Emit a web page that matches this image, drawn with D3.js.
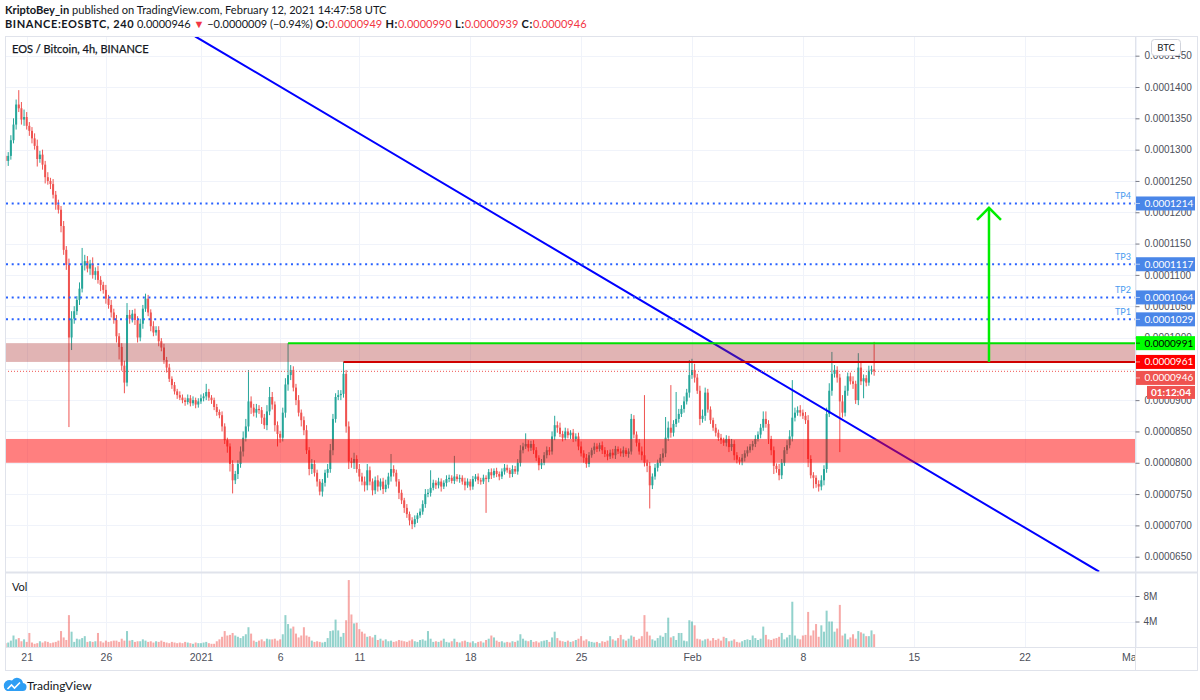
<!DOCTYPE html>
<html>
<head>
<meta charset="utf-8">
<script src="https://cdn.jsdelivr.net/npm/d3@7"></script>
<style>
  body { margin: 0; background: #fff; }
  svg { display: block; font-family: "Segoe UI", Lato, "Noto Sans", sans-serif; }
</style>
</head>
<body>
<div id="chart"></div>
<script>
// prices are stored in units of 1e-7 BTC (946 -> 0.0000946), volumes in millions
var startTime = Date.UTC(2020, 11, 19, 16);   // open time of first 4h candle
var firstOpen = 1290;

var closes = [
  1282,1290,1315,1340,1372,1366,1348,1352,1338,1330,
  1318,1306,1285,1292,1276,1256,1250,1245,1228,1212,
  1204,1178,1140,1116,1000,1030,1042,1060,1078,1115,
  1122,1110,1118,1100,1106,1092,1084,1076,1062,1052,
  1040,1028,1002,985,955,928,1036,1030,1038,1028,
  1000,1022,1046,1062,1040,1018,1008,1012,994,984,
  964,952,934,924,914,908,904,900,897,903,
  895,900,893,898,903,906,913,904,900,889,
  881,876,858,836,826,798,772,782,798,818,
  840,858,898,888,880,886,884,872,860,882,
  905,893,860,846,840,880,925,940,948,920,
  900,880,868,852,820,790,798,784,770,754,
  768,784,790,820,870,905,908,910,942,858,
  802,800,806,790,778,770,764,788,770,756,
  772,762,770,758,765,778,790,784,770,752,
  740,728,718,708,702,710,716,722,734,750,
  752,760,768,764,770,762,768,774,776,771,
  778,774,776,770,764,770,762,774,778,772,
  770,776,774,785,780,787,782,778,786,792,
  788,782,790,786,800,820,826,830,824,830,
  820,808,796,800,812,820,818,842,860,856,
  846,840,850,844,848,838,842,826,815,808,
  798,812,820,826,822,828,820,814,810,816,
  812,822,818,815,820,814,818,870,845,832,
  818,812,800,795,764,778,792,800,808,815,
  840,856,848,862,870,878,886,898,912,940,
  948,936,915,870,875,912,885,868,856,848,
  840,836,832,838,825,830,812,805,802,808,
  815,820,826,830,838,845,856,870,862,838,
  820,795,790,780,800,820,828,842,872,880,
  884,880,875,868,806,780,776,766,762,772,
  790,878,915,942,948,936,898,880,915,938,
  930,926,900,952,930,935,928,947,949,946
];

var upWicks = [
  8,6,8,10,8,23,10,12,8,6,
  6,8,10,6,8,6,8,5,8,6,
  8,6,8,6,10,12,8,6,10,28,
  10,8,6,10,6,8,6,5,8,6,
  8,6,8,5,6,8,19,8,6,8,
  6,8,6,8,6,5,8,6,6,5,
  6,5,6,4,5,4,6,5,4,6,
  5,6,4,5,6,5,13,5,4,4,
  5,4,6,5,4,5,6,5,6,8,
  10,12,50,8,6,8,6,5,6,10,
  16,8,5,6,5,8,10,51,8,6,
  6,8,5,6,8,5,8,6,5,4,
  6,5,8,10,8,6,8,6,19,6,
  8,6,10,6,8,6,8,10,6,5,
  6,8,5,6,8,6,24,6,5,4,
  5,4,6,4,5,6,4,5,6,8,
  6,28,5,4,6,5,4,6,5,4,
  33,4,5,4,6,5,4,5,4,5,
  4,5,4,5,6,4,5,4,5,6,
  5,4,6,5,6,8,6,17,6,5,
  6,5,4,6,5,6,5,8,15,6,
  8,5,6,5,4,6,5,6,8,5,
  6,5,4,6,5,4,6,5,6,5,
  6,5,4,5,6,4,5,8,6,5,
  6,8,96,5,6,5,6,5,6,8,
  33,10,68,6,43,8,6,8,6,24,
  18,10,6,8,10,8,6,5,4,6,
  5,6,4,6,5,8,6,5,4,6,
  5,6,4,5,6,5,6,12,12,6,
  5,6,4,8,6,5,8,10,60,8,
  6,8,5,6,8,6,5,4,6,8,
  6,10,12,35,8,6,6,10,8,6,
  6,8,5,23,8,6,5,8,6,44
];

var downWicks = [
  10,8,6,5,8,6,8,10,6,8,
  8,6,12,6,8,10,6,8,6,8,
  6,10,8,8,143,20,8,6,8,6,
  8,6,10,6,8,6,10,6,8,6,
  8,6,10,20,8,17,6,8,6,8,
  8,6,8,5,6,8,6,5,8,6,
  6,8,5,6,5,6,4,5,6,4,
  5,4,6,5,4,5,6,5,6,5,
  6,5,8,6,10,12,21,6,8,6,
  8,6,8,10,6,8,6,10,6,8,
  6,8,10,20,8,6,8,10,8,6,
  8,6,10,8,6,10,8,6,8,6,
  8,6,8,6,8,6,5,8,6,10,
  12,8,10,6,8,6,10,8,6,8,
  6,8,6,8,5,6,8,6,8,10,
  6,8,6,8,8,5,6,4,5,6,
  5,6,4,6,5,8,4,6,5,4,
  5,4,6,5,8,4,6,5,4,6,
  5,4,54,5,6,4,5,6,4,5,
  4,6,5,4,5,6,5,4,6,5,
  6,5,8,6,4,5,6,5,6,8,
  5,6,4,5,6,5,4,6,5,8,
  6,5,4,6,5,4,6,5,6,4,
  5,6,4,5,6,4,6,5,6,6,
  5,8,6,10,37,6,5,6,5,6,
  6,5,8,6,5,6,5,6,5,8,
  6,8,5,10,6,8,5,6,5,6,
  5,6,5,6,8,6,8,6,5,6,
  6,5,4,6,5,4,6,5,6,8,
  8,13,6,8,6,5,6,5,8,6,
  5,6,5,6,13,5,17,6,8,6,
  8,6,5,8,6,8,81,8,6,8,
  5,8,6,8,6,27,6,5,6,7
];

var volumes = [
  0.6,0.7,1.0,1.8,1.2,1.4,0.9,1.2,0.8,2.2,
  0.7,0.5,0.6,0.9,0.7,0.9,0.8,0.6,0.7,0.8,
  1.0,2.5,1.5,1.1,5.0,2.4,0.8,1.3,1.2,1.4,
  1.7,0.8,0.9,0.8,0.9,2.2,0.9,0.7,1.0,0.8,
  0.9,1.0,1.0,0.8,1.3,1.0,2.5,1.0,1.1,0.8,
  0.9,0.9,1.2,1.0,0.8,0.9,0.7,0.9,0.8,1.0,
  0.8,0.7,0.6,0.8,0.7,0.6,0.7,0.6,0.8,0.7,
  0.6,0.5,0.7,0.6,0.6,0.7,0.8,0.6,0.5,0.5,
  0.9,1.2,1.6,2.5,1.8,1.9,2.2,1.8,1.6,1.4,
  1.7,2.0,3.1,2.1,1.0,0.8,1.0,1.2,0.9,1.3,
  1.2,1.2,1.3,1.0,1.2,2.0,5.0,3.6,2.9,3.2,
  2.1,1.5,1.8,3.1,1.8,1.6,1.0,0.8,0.9,0.8,
  0.7,0.8,1.4,2.5,2.6,4.3,2.6,1.6,2.2,4.2,
  10.5,5.1,3.7,3.8,2.8,2.4,2.1,1.6,1.7,1.5,
  1.9,1.1,1.3,1.0,1.2,0.9,1.0,0.8,0.9,1.1,
  1.0,0.9,0.8,1.0,1.2,0.9,0.8,1.1,1.2,1.0,
  2.5,1.3,0.8,0.9,0.8,1.0,1.3,0.8,0.7,0.9,
  1.3,0.8,0.7,0.9,1.0,0.8,0.7,0.9,0.6,0.8,
  0.9,0.7,1.1,1.3,1.8,1.5,1.0,0.8,0.9,0.7,
  0.8,0.7,0.9,0.8,1.0,2.0,1.3,1.0,0.9,1.1,
  0.8,0.9,0.7,0.9,1.0,1.1,0.8,1.5,2.4,1.4,
  1.0,0.9,0.8,1.0,0.8,0.9,1.1,1.3,1.7,1.0,
  1.2,0.9,0.8,0.7,0.8,0.6,0.9,0.8,1.0,1.7,
  1.2,1.0,1.4,1.9,1.2,1.0,1.3,1.8,1.6,1.1,
  1.3,1.7,5.0,2.4,1.8,1.2,1.0,1.4,1.8,1.6,
  2.2,4.6,1.5,1.7,1.1,2.2,2.2,1.0,0.9,4.2,
  4.0,3.4,1.3,1.2,1.0,1.2,1.3,1.0,1.4,1.1,
  1.3,1.0,1.6,1.4,0.9,1.0,1.2,0.8,0.7,0.9,
  1.1,1.2,1.1,1.8,1.4,1.1,1.3,3.2,1.9,1.2,
  1.1,1.3,1.4,1.6,2.2,1.2,1.5,1.9,7.1,1.8,
  1.3,1.2,1.8,1.9,5.5,1.8,2.6,3.6,1.6,3.4,
  2.4,5.7,4.0,4.0,2.4,2.9,6.6,1.8,2.1,1.2,
  1.5,2.0,1.3,2.5,2.3,2.1,1.7,1.7,2.6,2.0
];

var priceTicks = d3.range(650, 1451, 50);
var volTicks = [4, 8];
var dateTicks = [
  Date.UTC(2020, 11, 21), Date.UTC(2020, 11, 26), Date.UTC(2021, 0, 1), Date.UTC(2021, 0, 6),
  Date.UTC(2021, 0, 11), Date.UTC(2021, 0, 18), Date.UTC(2021, 0, 25), Date.UTC(2021, 1, 1),
  Date.UTC(2021, 1, 8), Date.UTC(2021, 1, 15), Date.UTC(2021, 1, 22), Date.UTC(2021, 2, 1)
];
var dateLabels = ['21', '26', '2021', '6', '11', '18', '25', 'Feb', '8', '15', '22', 'Mar'];

// drawings on the chart
var tpLevels = [1029, 1064, 1117, 1214];
var tpNames = ['TP1', 'TP2', 'TP3', 'TP4'];
var upperZone = [961, 991];
var lowerZone = [800, 838];
var greenLevel = 991, greenFrom = 107;   // ray starting at candle index
var redLevel = 961, redFrom = 128;
var lastPrice = 946;
var countdown = '01:12:04';
var trendPoints = [[Date.UTC(2020, 11, 31, 15), 1481], [Date.UTC(2021, 1, 26, 17), 626]];
var arrowTime = Date.UTC(2021, 1, 19, 18);
var arrowPrices = [961, 1207];

var author = 'KriptoBey_in';
var stamp = ' published on TradingView.com, February 12, 2021 14:47:58 UTC';
var symbolLine = [
  ['BINANCE:EOSBTC, 240', '#131722', 'bold'],
  [' 0.0000946 ', '#131722', 'normal'],
  ['\u25BC', '#f23645', 'normal'],
  [' \u22120.0000009 (\u22120.94%) ', '#131722', 'normal'],
  ['O:', '#131722', 'bold'], ['0.0000949', '#f23645', 'normal'],
  [' H:', '#131722', 'bold'], ['0.0000990', '#f23645', 'normal'],
  [' L:', '#131722', 'bold'], ['0.0000939', '#f23645', 'normal'],
  [' C:', '#131722', 'bold'], ['0.0000946', '#f23645', 'normal']
];
var title = 'EOS / Bitcoin, 4h, BINANCE';

var W = 1200, H = 700;
var padL = 5, padR = 1135, padT = 36, paneBottom = 572, volBottom = 647, frameBottom = 670;
var upColor = '#26a69a', downColor = '#ef5350';

var svg = d3.select('#chart').append('svg').attr('width', W).attr('height', H);

var x = d3.scaleTime()
  .domain([new Date(Date.UTC(2020, 11, 21)), new Date(Date.UTC(2021, 2, 1))])
  .range([26.7, 1135.5]);
var y = d3.scaleLinear().domain([650, 1400]).range([556.7, 87]);
var v = d3.scaleLinear().domain([0, 8]).range([volBottom, 596]);

var candles = closes.map(function (c, i) {
  var o = i === 0 ? firstOpen : closes[i - 1];
  return {
    t: new Date(startTime + i * 4 * 3600 * 1000),
    o: o, c: c,
    h: Math.max(o, c) + upWicks[i],
    l: Math.min(o, c) - downWicks[i],
    vol: volumes[i]
  };
});

var defs = svg.append('defs');
defs.append('clipPath').attr('id', 'clipMain')
  .append('rect').attr('x', padL).attr('y', padT).attr('width', padR - padL).attr('height', paneBottom - padT);
defs.append('clipPath').attr('id', 'clipVol')
  .append('rect').attr('x', padL).attr('y', paneBottom).attr('width', padR - padL).attr('height', volBottom - paneBottom);
defs.append('clipPath').attr('id', 'clipTime')
  .append('rect').attr('x', padL).attr('y', volBottom).attr('width', padR - padL).attr('height', frameBottom - volBottom);

// header
var h1 = svg.append('text').attr('x', 5).attr('y', 14).attr('font-size', 11.1).attr('fill', '#131722');
h1.append('tspan').attr('font-weight', 'bold').text(author);
h1.append('tspan').text(stamp);

var h2 = svg.append('text').attr('x', 5).attr('y', 28).attr('font-size', 11);
symbolLine.forEach(function (p) {
  h2.append('tspan').attr('fill', p[1]).attr('font-weight', p[2])
    .attr('letter-spacing', p[2] === 'bold' ? 0.6 : 0)
    .attr('xml:space', 'preserve').text(p[0]);
});

// grid
var grid = svg.append('g');
grid.selectAll('.hg').data(priceTicks).enter().append('line')
  .attr('x1', padL).attr('x2', padR)
  .attr('y1', function (d) { return Math.round(y(d)) + 0.5; })
  .attr('y2', function (d) { return Math.round(y(d)) + 0.5; })
  .attr('stroke', '#f0f3fa').attr('clip-path', 'url(#clipMain)');
grid.selectAll('.vg').data(volTicks).enter().append('line')
  .attr('x1', padL).attr('x2', padR)
  .attr('y1', function (d) { return Math.round(v(d)) + 0.5; })
  .attr('y2', function (d) { return Math.round(v(d)) + 0.5; })
  .attr('stroke', '#f0f3fa');
grid.selectAll('.tg').data(dateTicks).enter().append('line')
  .attr('x1', function (d) { return Math.round(x(d)) + 0.5; })
  .attr('x2', function (d) { return Math.round(x(d)) + 0.5; })
  .attr('y1', padT).attr('y2', volBottom)
  .attr('stroke', '#f0f3fa');

// candles
var main = svg.append('g').attr('clip-path', 'url(#clipMain)');
var cg = main.append('g');
cg.selectAll('.wick').data(candles).enter().append('line')
  .attr('x1', function (d) { return x(d.t); })
  .attr('x2', function (d) { return x(d.t); })
  .attr('y1', function (d) { return y(d.h); })
  .attr('y2', function (d) { return y(d.l); })
  .attr('stroke', function (d) { return d.c >= d.o ? upColor : downColor; })
  .attr('stroke-width', 1);
cg.selectAll('.body').data(candles).enter().append('rect')
  .attr('x', function (d) { return x(d.t) - 1; })
  .attr('width', 2)
  .attr('y', function (d) { return y(Math.max(d.o, d.c)); })
  .attr('height', function (d) { return Math.max(1, Math.abs(y(d.o) - y(d.c))); })
  .attr('fill', function (d) { return d.c >= d.o ? upColor : downColor; });

// trend line
main.append('line')
  .attr('x1', x(new Date(trendPoints[0][0]))).attr('y1', y(trendPoints[0][1]))
  .attr('x2', x(new Date(trendPoints[1][0]))).attr('y2', y(trendPoints[1][1]))
  .attr('stroke', '#0000ff').attr('stroke-width', 2);

// zones
main.append('rect')
  .attr('x', padL).attr('width', padR - padL)
  .attr('y', y(upperZone[1])).attr('height', y(upperZone[0]) - y(upperZone[1]))
  .attr('fill', 'rgba(170,40,40,0.35)');
main.append('rect')
  .attr('x', padL).attr('width', padR - padL)
  .attr('y', y(lowerZone[1])).attr('height', y(lowerZone[0]) - y(lowerZone[1]))
  .attr('fill', 'rgba(255,0,0,0.5)');

// take profit levels
tpLevels.forEach(function (p, i) {
  main.append('line')
    .attr('x1', padL + 1).attr('x2', padR)
    .attr('y1', y(p)).attr('y2', y(p))
    .attr('stroke', '#2962ff').attr('stroke-width', 2)
    .attr('stroke-dasharray', '2 3.7');
  main.append('text')
    .attr('x', padR - 4).attr('y', y(p) - 4)
    .attr('text-anchor', 'end').attr('font-size', 9)
    .attr('fill', '#4a9bf0').text(tpNames[i]);
});

// last price dotted line
main.append('line')
  .attr('x1', padL).attr('x2', padR)
  .attr('y1', y(lastPrice)).attr('y2', y(lastPrice))
  .attr('stroke', downColor).attr('stroke-width', 1)
  .attr('stroke-dasharray', '1 2');

// rays
main.append('line')
  .attr('x1', x(candles[redFrom].t)).attr('x2', padR)
  .attr('y1', y(redLevel)).attr('y2', y(redLevel))
  .attr('stroke', '#d00000').attr('stroke-width', 2);
main.append('line')
  .attr('x1', x(candles[greenFrom].t)).attr('x2', padR)
  .attr('y1', y(greenLevel)).attr('y2', y(greenLevel))
  .attr('stroke', '#00e000').attr('stroke-width', 2);

// arrow
var ax = x(new Date(arrowTime));
var tipY = y(arrowPrices[1]);
main.append('line')
  .attr('x1', ax).attr('x2', ax)
  .attr('y1', y(arrowPrices[0])).attr('y2', tipY)
  .attr('stroke', '#00ee00').attr('stroke-width', 2.5);
main.append('path')
  .attr('d', 'M' + (ax - 12) + ',' + (tipY + 12) + 'L' + ax + ',' + tipY + 'L' + (ax + 12) + ',' + (tipY + 12))
  .attr('fill', 'none').attr('stroke', '#00ee00').attr('stroke-width', 2.5);

main.append('text').attr('x', 12).attr('y', 53)
  .attr('font-size', 11).attr('fill', '#131722').attr('stroke', '#131722').attr('stroke-width', 0.25)
  .text(title);

// volume
var vg = svg.append('g').attr('clip-path', 'url(#clipVol)');
vg.selectAll('.vol').data(candles).enter().append('rect')
  .attr('x', function (d) { return x(d.t) - 1; })
  .attr('width', 2)
  .attr('y', function (d) { return v(d.vol); })
  .attr('height', function (d) { return volBottom - v(d.vol); })
  .attr('fill', function (d) { return d.c >= d.o ? upColor : downColor; })
  .attr('fill-opacity', 0.5);
svg.append('text').attr('x', 12).attr('y', 591).attr('font-size', 11).attr('fill', '#131722').text('Vol');

// frames
var frame = svg.append('g').attr('fill', 'none').attr('stroke', '#e0e3eb');
frame.append('rect').attr('x', padL + 0.5).attr('y', padT + 0.5).attr('width', 1197 - padL).attr('height', frameBottom - padT);
frame.append('line').attr('x1', padR + 0.5).attr('x2', padR + 0.5).attr('y1', padT).attr('y2', frameBottom);
frame.append('line').attr('x1', padL).attr('x2', 1198).attr('y1', paneBottom + 0.5).attr('y2', paneBottom + 0.5).attr('stroke-width', 2);
frame.append('line').attr('x1', padL).attr('x2', 1198).attr('y1', volBottom + 0.5).attr('y2', volBottom + 0.5);

// price axis (labels hidden entirely behind a price box are left out)
var pAxis = svg.append('g').attr('transform', 'translate(' + (padR + 0.5) + ',0)')
  .call(d3.axisRight(y).tickValues(priceTicks.filter(function (d) { return d !== 950; }))
    .tickSize(4).tickPadding(5)
    .tickFormat(function (d) { return (d / 1e7).toFixed(7); }));
pAxis.select('.domain').remove();
pAxis.selectAll('line').attr('stroke', '#787b86');
pAxis.selectAll('text').attr('font-size', 10).attr('fill', '#4c4f5a').attr('font-family', null);

var vAxis = svg.append('g').attr('transform', 'translate(' + (padR + 0.5) + ',0)')
  .call(d3.axisRight(v).tickValues(volTicks).tickSize(4).tickPadding(4)
    .tickFormat(function (d) { return d + 'M'; }));
vAxis.select('.domain').remove();
vAxis.selectAll('line').attr('stroke', '#787b86');
vAxis.selectAll('text').attr('font-size', 10).attr('fill', '#4c4f5a').attr('font-family', null);

// time axis
var tAxis = svg.append('g').attr('clip-path', 'url(#clipTime)').append('g')
  .attr('transform', 'translate(0,' + (volBottom + 5) + ')')
  .call(d3.axisBottom(x).tickValues(dateTicks.map(function (d) { return new Date(d); }))
    .tickSize(0).tickPadding(0)
    .tickFormat(function (d, i) { return dateLabels[i]; }));
tAxis.select('.domain').remove();
tAxis.selectAll('text').attr('font-size', 10.5).attr('fill', '#4c4f5a').attr('font-family', null)
  .attr('dy', '0.9em');
tAxis.selectAll('.tick').filter(function (d, i) { return i === dateLabels.length - 1; })
  .select('text').attr('text-anchor', 'end').attr('dx', '0.4em');

// BTC badge
svg.append('rect').attr('x', 1151.5).attr('y', 39.5).attr('width', 29).attr('height', 16).attr('rx', 3)
  .attr('fill', '#fff').attr('stroke', '#d1d4dc');
svg.append('text').attr('x', 1166).attr('y', 51).attr('text-anchor', 'middle')
  .attr('font-size', 9.5).attr('fill', '#131722').text('BTC');

// price labels on axis
var labels = tpLevels.map(function (p) { return { p: p, bg: '#4a86e8', fg: '#fff' }; })
  .concat([{ p: greenLevel, bg: '#00ff00', fg: '#000' },
           { p: redLevel, bg: '#ff0000', fg: '#fff' },
           { p: lastPrice, bg: '#ef5350', fg: '#fff' }]);
labels.forEach(function (d) { d.yc = y(d.p); });
labels.sort(function (a, b) { return a.yc - b.yc; });
var prevBottom = -Infinity;
labels.forEach(function (d) {
  d.top = Math.max(d.yc - 7, prevBottom + 2);
  prevBottom = d.top + 14;
});
var lg = svg.append('g');
labels.forEach(function (d) {
  lg.append('rect').attr('x', padR + 1).attr('y', d.top).attr('width', 59).attr('height', 14).attr('fill', d.bg);
  lg.append('line').attr('x1', padR + 1).attr('x2', padR + 5).attr('y1', d.top + 7).attr('y2', d.top + 7)
    .attr('stroke', d.fg).attr('stroke-opacity', 0.6);
  lg.append('text').attr('x', padR + 9.5).attr('y', d.top + 10.5)
    .attr('font-size', 10).attr('fill', d.fg).text((d.p / 1e7).toFixed(7));
  if (d.p === lastPrice) {
    lg.append('rect').attr('x', 1147).attr('y', d.top + 15).attr('width', 48).attr('height', 13).attr('fill', d.bg);
    lg.append('text').attr('x', 1171).attr('y', d.top + 25).attr('text-anchor', 'middle')
      .attr('font-size', 10).attr('font-weight', 'bold').attr('fill', '#fff').text(countdown);
  }
});

// TradingView footer
var logo = svg.append('g');
logo.append('path')
  .attr('d', 'M7,691 H22 A4,4 0 0 0 23,683 A6,6 0 0 0 12,680.5 A5,5 0 0 0 7,691 Z')
  .attr('fill', '#2e9ef4');
logo.append('path').attr('d', 'M7.5,689 L11.5,685 L14.5,688 L20,682.5')
  .attr('fill', 'none').attr('stroke', '#fff').attr('stroke-width', 1.6);
svg.append('text').attr('x', 27).attr('y', 690).attr('font-size', 12).attr('fill', '#131722').text('TradingView');
</script>
</body>
</html>
